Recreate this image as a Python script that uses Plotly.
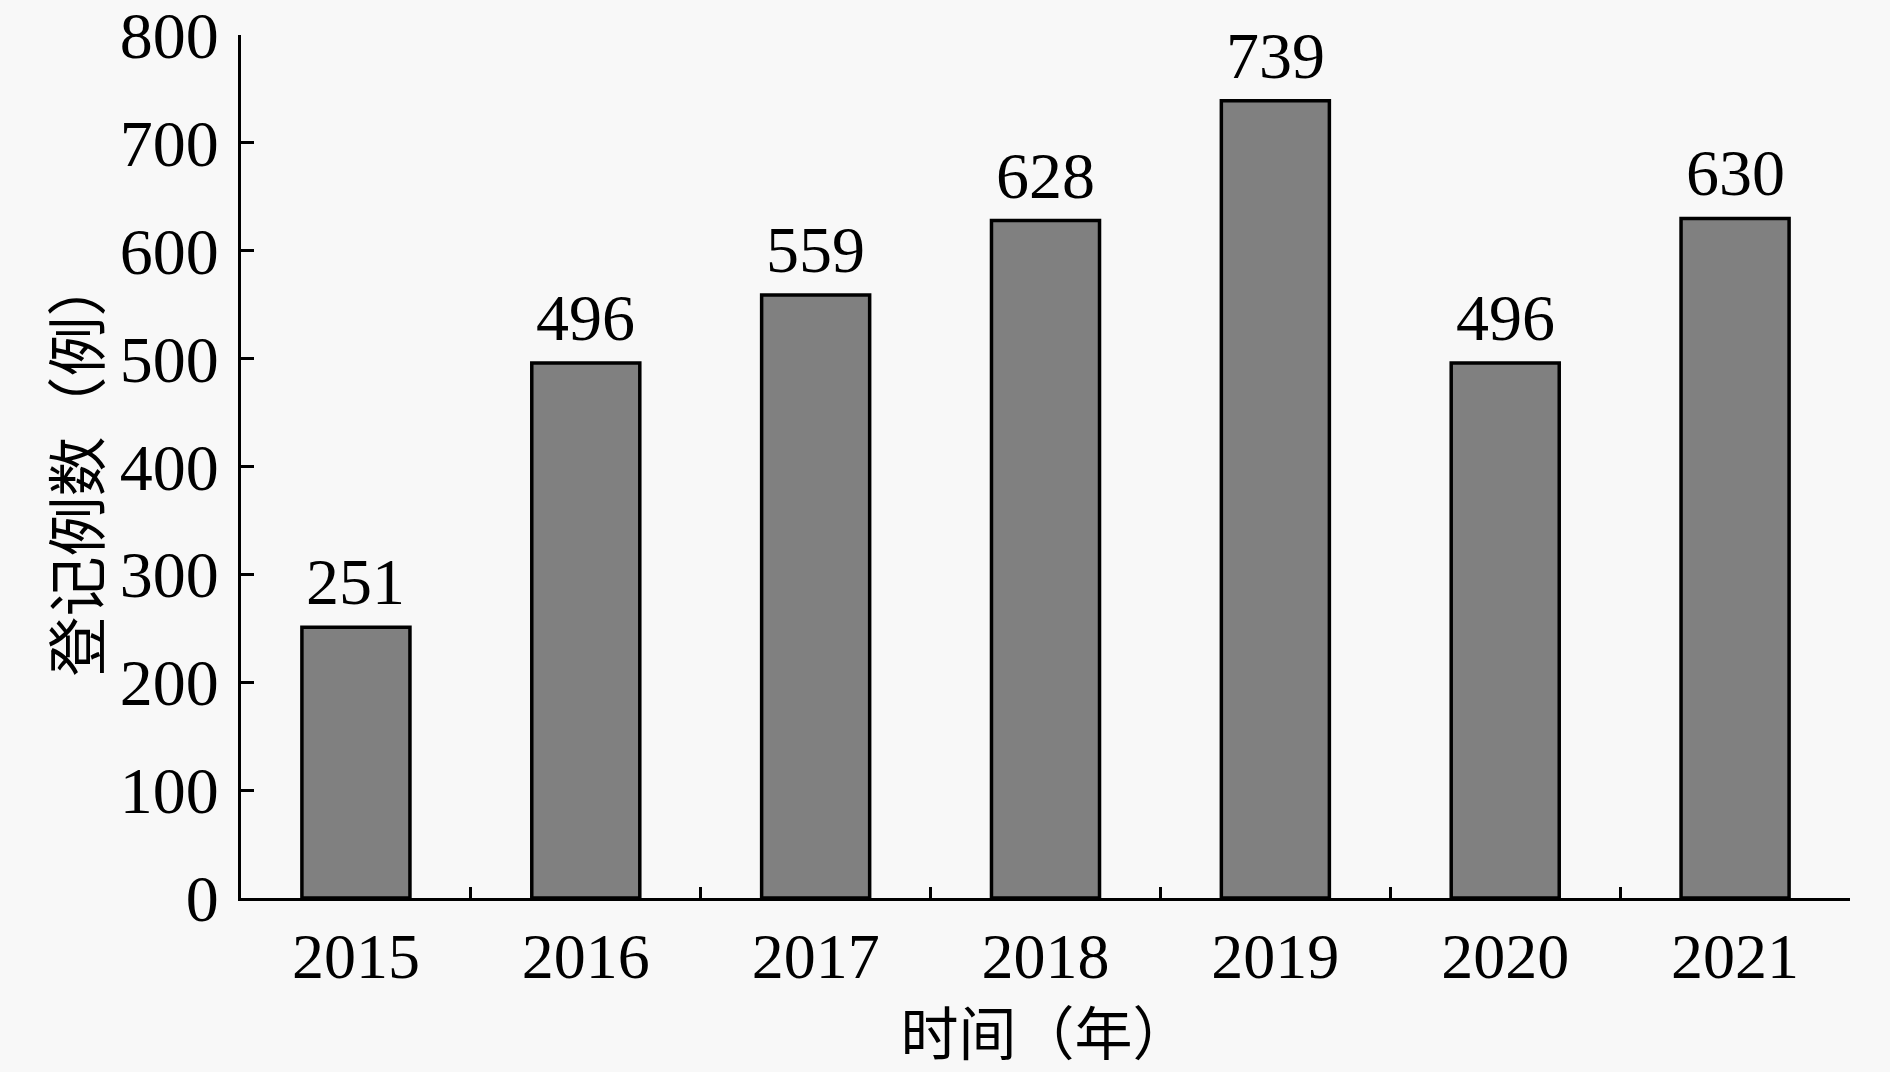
import plotly.graph_objects as go

years = ["2015", "2016", "2017", "2018", "2019", "2020", "2021"]
counts = [251, 496, 559, 628, 739, 496, 630]
y_ticks = [0, 100, 200, 300, 400, 500, 600, 700, 800]

serif = "Liberation Serif, Times New Roman, serif"
cjk = "Noto Sans CJK SC"
bg = "#f8f8f8"

fig = go.Figure()
fig.add_trace(go.Bar(
    x=years, y=counts,
    marker=dict(color="#808080", line=dict(color="black", width=3.5)),
    width=0.47,
    showlegend=False,
))

for i, v in enumerate(counts):
    fig.add_annotation(x=i, y=v, text=str(v), showarrow=False,
                       yanchor="bottom", yshift=7,
                       font=dict(family=serif, size=66, color="black"))

fig.update_layout(
    width=1890, height=1072,
    margin=dict(l=241, r=40, t=35, b=174),
    paper_bgcolor=bg, plot_bgcolor=bg,
    xaxis=dict(
        type="category", range=[-0.5, 6.5], automargin=False,
        showline=True, linecolor="black", linewidth=3,
        ticks="inside", tickson="boundaries", ticklen=11, tickwidth=3, tickcolor="black",
        tickfont=dict(family=serif, size=64, color="black"),
        showgrid=False, zeroline=False,
        title=dict(text="时间（年）", font=dict(family=cjk, size=58, color="black"), standoff=8),
    ),
    yaxis=dict(
        range=[0, 800], tickvals=y_ticks, automargin=False,
        showline=True, linecolor="black", linewidth=3,
        ticks="inside", ticklen=13, tickwidth=3, tickcolor="black",
        tickfont=dict(family=serif, size=66, color="black"),
        ticklabelstandoff=6, ticklabeloverflow="allow",
        showgrid=False, zeroline=False,
        title=dict(text="登记例数（例）", font=dict(family=cjk, size=60, color="black"), standoff=0),
    ),
)

fig.write_html(
    "out.html",
    config={"displayModeBar": False},
    post_script="document.body.style.margin='0';document.body.style.background='#f8f8f8';",
)
